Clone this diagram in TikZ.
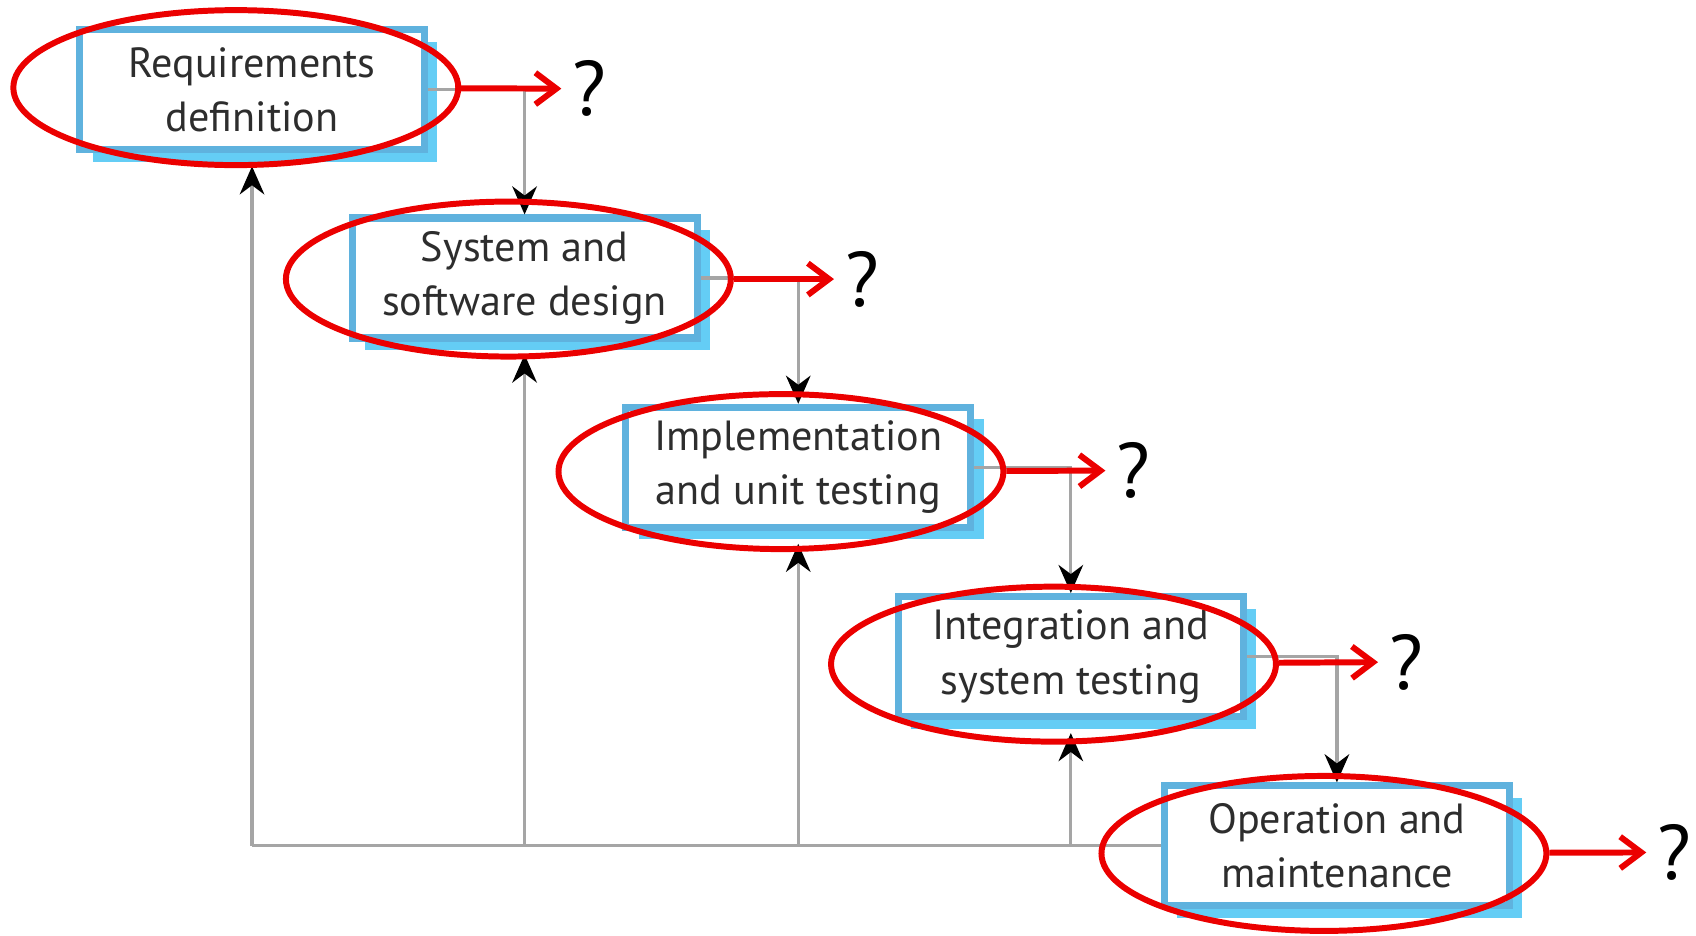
\documentclass[tikz,border=0pt]{standalone}
\usepackage{fontspec}
\setmainfont{PT Sans}
\usepackage{tikz}
\usetikzlibrary{arrows.meta}
\usetikzlibrary{shapes.geometric}
\usetikzlibrary{shadows}
\definecolor{boxblue}{RGB}{95,178,222}
\definecolor{shadeblue}{RGB}{100,205,245}
\definecolor{linegray}{RGB}{165,165,165}
\definecolor{textgray}{RGB}{45,45,45}
\definecolor{markred}{RGB}{235,0,0}
\tikzstyle{phase} = [draw=boxblue, line width=2pt, fill=white, minimum width=3.45cm, minimum height=1.2cm, align=center, text=textgray, font=\fontsize{12}{15.5}\selectfont, general shadow={fill=shadeblue, shadow xshift=0.13cm, shadow yshift=-0.12cm}]
\tikzstyle{ring} = [draw=markred, ellipse, line width=1.7pt, minimum width=4.45cm, minimum height=1.55cm, inner sep=0pt]
\tikzstyle{flow} = [draw=linegray, line width=0.9pt, -{Stealth[length=8pt, width=7pt, black]}]
\tikzstyle{redarrow} = [draw=markred, line width=1.7pt, -{Straight Barb[length=6pt, width=9pt]}]
\tikzstyle{query} = [font=\fontsize{22}{22}\selectfont, inner ysep=0pt, inner xsep=3pt]

\begin{document}
\begin{tikzpicture}[x=0.010816cm, y=-0.010816cm]
	\useasboundingbox (0,0) rectangle (1568,865);

	\node[phase](req) at (233, 83){Requirements\\definition};
	\node[phase](des) at (485, 257){System and\\software design};
	\node[phase](impl) at (738, 432){Implementation\\and unit testing};
	\node[phase](integ) at (990, 607){Integration and\\system testing};
	\node[phase](oper) at (1236, 782){Operation and\\maintenance};

	\draw[flow](req.east) -| (des.north);
	\draw[flow](des.east) -| (impl.north);
	\draw[flow](impl.east) -| (integ.north);
	\draw[flow](integ.east) -| (oper.north);

	\draw[draw=linegray, line width=0.9pt](req.south |- oper.west) -- (oper.west);
	\draw[flow](req.south |- oper.west) -- ([yshift=-0.13cm]req.south);
	\draw[flow](des.south |- oper.west) -- ([yshift=-0.13cm]des.south);
	\draw[flow](impl.south |- oper.west) -- ([yshift=-0.13cm]impl.south);
	\draw[flow](integ.south |- oper.west) -- ([yshift=-0.13cm]integ.south);

	\node[ring](reqring) at (218, 81){};
	\node[ring](desring) at (470, 258){};
	\node[ring](implring) at (722, 436){};
	\node[ring](integring) at (974, 614){};
	\node[ring](operring) at (1224, 789){};

	\node[query](q1) at (545, 82){?};
	\node[query](q2) at (797, 258){?};
	\node[query](q3) at (1048, 435){?};
	\node[query](q4) at (1300, 612){?};
	\node[query](q5) at (1548, 788){?};

	\draw[redarrow](reqring) -- (q1);
	\draw[redarrow](desring) -- (q2);
	\draw[redarrow](implring) -- (q3);
	\draw[redarrow](integring) -- (q4);
	\draw[redarrow](operring) -- (q5);
\end{tikzpicture}
\end{document}
